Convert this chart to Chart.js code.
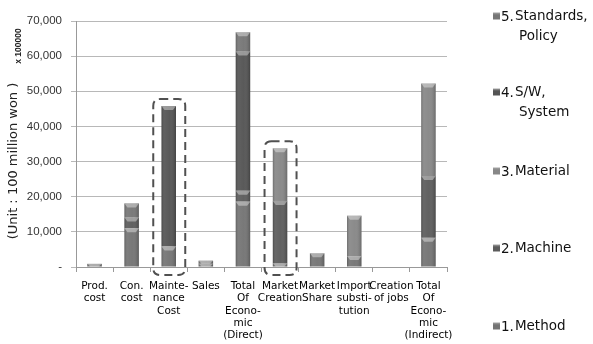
<!DOCTYPE html>
<html>
<head>
<meta charset="utf-8">
<script src="https://cdn.jsdelivr.net/npm/chart.js@4"></script>
<style>
html,body{margin:0;padding:0;background:#fff;}
#wrap{width:593px;height:344px;position:relative;}
</style>
</head>
<body>
<div id="wrap"><canvas id="c" width="593" height="344"></canvas></div>
<script>
// ---- data ----
const categories = [
  ["Prod.","cost"],
  ["Con.","cost"],
  ["Mainte-","nance","Cost"],
  ["Sales"],
  ["Total","Of","Econo-","mic","(Direct)"],
  ["Market","Creation"],
  ["Market","Share"],
  ["Import","substi-","tution"],
  ["Creation","of jobs"],
  ["Total","Of","Econo-","mic","(Indirect)"]
];
const seriesNames = ["1.Method","2.Machine","3.Material","4.S/W, System","5.Standards, Policy"];
const method    = [900, 11000, 5800, 900, 18600, 1000, 3900, 3100, 0, 8300];
const machine   = [0, 3100, 0, 0, 3100, 17800, 0, 0, 0, 17600];
const material  = [0, 0, 0, 0, 0, 15000, 0, 11500, 0, 26300];
const swSystem  = [0, 0, 40000, 0, 39600, 0, 0, 0, 0, 0];
const standards = [0, 4000, 0, 900, 5500, 0, 0, 0, 0, 0];
const yTicks = [0, 10000, 20000, 30000, 40000, 50000, 60000, 70000];
const yTitle = "(Unit : 100 million won )";
const yMultiplier = "x 100000";
const highlighted = [2, 5];

const seriesValues = [method, machine, material, swSystem, standards];
const seriesColors = ["#747474", "#5c5c5c", "#878787", "#545454", "#767676"];

const shadePlugin = {
  id: 'shade',
  afterDatasetsDraw(chart) {
    const ctx = chart.ctx;
    chart.data.datasets.forEach((ds, i) => {
      const meta = chart.getDatasetMeta(i);
      meta.data.forEach((bar, j) => {
        if (!ds.data[j]) return;
        const p = bar.getProps(['x','y','base','width'], true);
        const l = p.x - p.width/2, r = p.x + p.width/2, h = p.base - p.y;
        ctx.save();
        const g = ctx.createLinearGradient(l, 0, r, 0);
        g.addColorStop(0, 'rgba(0,0,0,0.2)');
        g.addColorStop(0.2, 'rgba(255,255,255,0.07)');
        g.addColorStop(0.55, 'rgba(255,255,255,0.03)');
        g.addColorStop(1, 'rgba(0,0,0,0.22)');
        ctx.fillStyle = g;
        ctx.fillRect(l, p.y, p.width, h);
        const capH = Math.min(4, h);
        ctx.fillStyle = 'rgba(255,255,255,0.38)';
        ctx.beginPath();
        ctx.moveTo(l, p.y); ctx.lineTo(r, p.y);
        ctx.lineTo(r - 3, p.y + capH); ctx.lineTo(l + 3, p.y + capH);
        ctx.closePath(); ctx.fill();
        ctx.restore();
      });
    });
  }
};

function roundRectPath(ctx, x, y, w, h, r) {
  ctx.beginPath();
  ctx.moveTo(x + r, y);
  ctx.lineTo(x + w - r, y);
  ctx.quadraticCurveTo(x + w, y, x + w, y + r);
  ctx.lineTo(x + w, y + h - r);
  ctx.quadraticCurveTo(x + w, y + h, x + w - r, y + h);
  ctx.lineTo(x + r, y + h);
  ctx.quadraticCurveTo(x, y + h, x, y + h - r);
  ctx.lineTo(x, y + r);
  ctx.quadraticCurveTo(x, y, x + r, y);
  ctx.closePath();
}

const decorPlugin = {
  id: 'decor',
  afterDraw(chart) {
    const ctx = chart.ctx;
    const xs = chart.scales.x, ys = chart.scales.y;
    // dashed highlight boxes
    highlighted.forEach(idx => {
      let total = 0;
      seriesValues.forEach(s => total += s[idx]);
      const cx = xs.getPixelForValue(idx);
      const top = ys.getPixelForValue(total) - 7;
      const bottom = ys.getPixelForValue(0) + 8;
      ctx.save();
      ctx.strokeStyle = '#505050';
      ctx.lineWidth = 2;
      ctx.setLineDash([8, 5]);
      roundRectPath(ctx, cx - 15.5, top, 32, bottom - top, 7);
      ctx.stroke();
      ctx.restore();
    });
    // rotated axis title & multiplier
    ctx.save();
    ctx.fillStyle = '#222';
    ctx.translate(14, 161);
    ctx.rotate(-Math.PI/2);
    ctx.font = '13px "DejaVu Sans"';
    ctx.textAlign = 'center';
    ctx.textBaseline = 'middle';
    ctx.fillText(yTitle, 0, 0);
    ctx.restore();
    ctx.save();
    ctx.fillStyle = '#222';
    ctx.translate(19, 46);
    ctx.rotate(-Math.PI/2);
    ctx.font = 'bold 8.5px "Liberation Sans"';
    ctx.textAlign = 'center';
    ctx.textBaseline = 'middle';
    ctx.fillText(yMultiplier, 0, 0);
    ctx.restore();
    // legend
    const legendY = [326, 248, 171, 92, 16];
    ctx.save();
    ctx.font = '13.5px "DejaVu Sans"';
    ctx.textBaseline = 'middle';
    seriesNames.forEach((name, i) => {
      const y = legendY[i];
      const sq = ctx.createLinearGradient(493, y - 3.5, 493, y + 3.5);
      sq.addColorStop(0, '#a5a5a5');
      sq.addColorStop(0.35, seriesColors[i]);
      sq.addColorStop(1, seriesColors[i]);
      ctx.fillStyle = sq;
      ctx.fillRect(493, y - 3.5, 7, 7);
      ctx.fillStyle = '#111';
      const parts = name.split(', ');
      const dot = parts[0].indexOf('.');
      const num = parts[0].slice(0, dot + 1);
      const rest = parts[0].slice(dot + 1) + (parts.length > 1 ? ',' : '');
      ctx.fillText(num, 501, y + 1);
      ctx.fillText(rest, 501 + ctx.measureText(num).width + 1, y);
      if (parts.length > 1) ctx.fillText(parts[1], 519, y + 20);
    });
    ctx.restore();
  }
};

new Chart(document.getElementById('c'), {
  type: 'bar',
  data: {
    labels: categories,
    datasets: seriesValues.map((vals, i) => ({
      label: seriesNames[i],
      data: vals,
      backgroundColor: seriesColors[i],
      borderWidth: 0,
      barPercentage: 0.39,
      categoryPercentage: 1.0
    }))
  },
  options: {
    responsive: false,
    animation: false,
    layout: { padding: { top: 21, right: 146, left: 0, bottom: 0 } },
    plugins: { legend: { display: false }, tooltip: { enabled: false } },
    scales: {
      x: {
        stacked: true,
        afterFit(scale) { scale.height = 77; },
        grid: { offset: true, drawOnChartArea: false, tickLength: 5, color: '#999' },
        border: { color: '#999' },
        ticks: {
          maxRotation: 0, autoSkip: false, padding: 8,
          color: '#000',
          font: { family: '"DejaVu Sans"', size: 10.5, lineHeight: 1.18 }
        }
      },
      y: {
        stacked: true,
        min: 0, max: 70000,
        afterFit(scale) { scale.width = 76; },
        afterBuildTicks(scale) { scale.ticks = yTicks.map(v => ({ value: v })); },
        grid: { color: '#b8b8b8', tickLength: 5 },
        border: { color: '#999' },
        ticks: {
          padding: 9,
          color: '#333',
          font: { family: '"Liberation Sans"', size: 11.5 },
          callback: v => v === 0 ? '-' : v.toLocaleString('en-US')
        }
      }
    }
  },
  plugins: [shadePlugin, decorPlugin]
});
</script>
</body>
</html>
